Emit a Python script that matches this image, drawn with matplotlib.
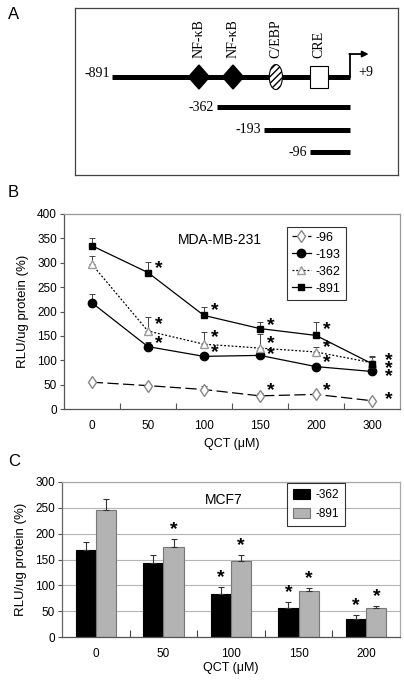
import matplotlib
matplotlib.use("Agg")
import matplotlib.pyplot as plt
from matplotlib.patches import Polygon, Ellipse, Rectangle
import numpy as np

plt.rcParams["font.family"] = ["Liberation Sans", "DejaVu Sans"]
plt.rcParams["hatch.linewidth"] = 1.0

# --- panel A: promoter constructs (schematic, not to scale) ---
PROM_START, PROM_END = -891, 9
EL_LABELS = ["NF-κB", "NF-κB", "C/EBP", "CRE"]
EL_KINDS = ["diamond", "diamond", "ellipse", "box"]
EL_POS = [-562, -433, -271, -108]
DEL_LABELS = ["-362", "-193", "-96"]
DEL_START = [-494, -316, -142]

# --- panel B: MDA-MB-231 dose response ---
DOSES_B = ["0", "50", "100", "150", "200", "300"]
B_NAMES = ["-96", "-193", "-362", "-891"]
B_96 = [55, 48, 40, 27, 30, 17]
B_193 = [218, 128, 108, 110, 87, 77]
B_362 = [297, 160, 133, 125, 117, 95]
B_891 = [335, 280, 192, 165, 151, 93]
B_96_ERR = [5, 3, 8, 6, 4, 3]
B_193_ERR = [17, 10, 5, 6, 5, 5]
B_362_ERR = [17, 28, 25, 28, 10, 12]
B_891_ERR = [15, 22, 18, 13, 28, 16]
# significant points (index, star height)
B_96_STAR = [(3, 38), (4, 38), (5, 19)]
B_193_STAR = [(1, 134), (2, 115), (3, 112), (4, 95), (5, 66)]
B_362_STAR = [(1, 174), (2, 146), (3, 134), (4, 125), (5, 83)]
B_891_STAR = [(1, 289), (2, 201), (3, 172), (4, 162), (5, 100)]

# --- panel C: MCF7 ---
DOSES_C = ["0", "50", "100", "150", "200"]
C_362 = [168, 143, 83, 57, 35]
C_362_ERR = [15, 16, 13, 10, 8]
C_891 = [246, 174, 147, 89, 57]
C_891_ERR = [22, 16, 11, 6, 3]
C_362_SIG = [False, False, True, True, True]
C_891_SIG = [False, True, True, True, True]

fig = plt.figure(figsize=(4.04, 6.8), dpi=100)

# ================= A =================
axA = fig.add_axes([0.1856, 0.7426, 0.7995, 0.2456])
axA.set_xlim(-1031, 191)
axA.set_ylim(167, 0)
axA.set_xticks([]); axA.set_yticks([])
for s in axA.spines.values():
    s.set_color("#444"); s.set_linewidth(0.9)
serif = ["Liberation Serif", "DejaVu Serif"]
y0 = 69
axA.plot([PROM_START, PROM_END], [y0, y0], color="black", lw=3.6,
         solid_capstyle="butt", zorder=1)
for lab, kind, x in zip(EL_LABELS, EL_KINDS, EL_POS):
    if kind == "diamond":
        axA.add_patch(Polygon([[x - 40, y0], [x, y0 - 12], [x + 40, y0], [x, y0 + 12]],
                              closed=True, fc="black", ec="black", zorder=3))
    elif kind == "ellipse":
        axA.add_patch(Ellipse((x, y0), 50, 25, fc="white", ec="black", lw=0.8,
                              hatch="/////", zorder=3))
    else:
        axA.add_patch(Rectangle((x - 34, y0 - 11), 68, 22, fc="white",
                                ec="black", lw=0.8, zorder=3))
    axA.text(x, 50, lab, rotation=90, ha="center", va="bottom",
             fontsize=10, family=serif)
# transcription start arrow
axA.plot([PROM_END, PROM_END], [y0, 46], color="black", lw=1.3)
axA.annotate("", xy=(80, 46), xytext=(PROM_END - 2, 46),
             arrowprops=dict(arrowstyle="-|>", color="black", lw=1.3,
                             mutation_scale=9, shrinkA=0, shrinkB=0))
axA.text(PROM_START - 8, y0 - 4, "-891", ha="right", va="center",
         fontsize=10, family=serif)
axA.text(40, y0 - 5, "+9", ha="left", va="center", fontsize=10, family=serif)
for k, (lab, xs) in enumerate(zip(DEL_LABELS, DEL_START)):
    yy = 99 + 22.5 * k
    axA.plot([xs, PROM_END], [yy, yy], color="black", lw=3.6,
             solid_capstyle="butt")
    axA.text(xs - 12, yy, lab, ha="right", va="center", fontsize=10,
             family=serif)
fig.text(0.02, 0.978, "A", fontsize=12, va="center", ha="left")

# ================= B =================
axB = fig.add_axes([0.158, 0.3985, 0.832, 0.2868])
xb = np.arange(len(DOSES_B))
styles = [
    (B_96, B_96_ERR, B_96_STAR, dict(ls=(0, (9, 3.5)), marker="d", ms=6,
                                     mfc="white", mec="#888")),
    (B_193, B_193_ERR, B_193_STAR, dict(ls="-", marker="o", ms=6,
                                        mfc="black", mec="black")),
    (B_362, B_362_ERR, B_362_STAR, dict(ls=(0, (1.5, 1.5)), marker="^", ms=6,
                                        mfc="white", mec="#999")),
    (B_891, B_891_ERR, B_891_STAR, dict(ls="-", marker="s", ms=4.5,
                                        mfc="black", mec="black")),
]
handles = []
for name, (vals, err, stars, st) in zip(B_NAMES, styles):
    axB.errorbar(xb, vals, yerr=[np.zeros(len(err)), err], fmt="none",
                 ecolor="#444", elinewidth=0.7, capsize=2.5, capthick=0.7,
                 zorder=2)
    ln, = axB.plot(xb, vals, color="black", lw=0.9, label=name, zorder=3, **st)
    handles.append(ln)
    for i, ys in stars:
        dx = 0.3 if i == 5 else 0.2
        axB.text(xb[i] + dx, ys, "*", fontsize=14, ha="center", va="center",
                 fontweight="bold")
axB.set_xlim(-0.5, len(DOSES_B) - 0.5)
axB.set_ylim(0, 400)
axB.set_yticks(np.arange(0, 401, 50))
axB.set_xticks(xb)
axB.set_xticklabels(DOSES_B)
axB.set_xticks(np.arange(0.5, len(DOSES_B) - 0.5, 1), minor=True)
axB.tick_params(axis="x", which="major", length=0, labelsize=8.5, pad=8)
axB.tick_params(axis="x", which="minor", direction="in", length=4,
                color="#555", width=0.8)
axB.tick_params(axis="y", length=3, color="#555", labelsize=8.5, pad=2)
for s in axB.spines.values():
    s.set_color("#999"); s.set_linewidth(0.9)
axB.spines["left"].set_color("#555")
axB.spines["bottom"].set_color("#555")
axB.set_ylabel("RLU/ug protein (%)", fontsize=9.5, labelpad=6)
axB.set_xlabel("QCT (μM)", fontsize=9, labelpad=4)
axB.text(0.464, 0.867, "MDA-MB-231", transform=axB.transAxes, fontsize=10,
         ha="center", va="center")
legB = axB.legend(handles=handles, loc="upper left",
                  bbox_to_anchor=(0.664, 0.935), borderaxespad=0,
                  fontsize=9, handlelength=1.5, handletextpad=0.4,
                  labelspacing=0.4, borderpad=0.4, fancybox=False,
                  frameon=True)
legB.get_frame().set_edgecolor("black")
legB.get_frame().set_linewidth(0.8)
fig.text(0.02, 0.717, "B", fontsize=12, va="center", ha="left")

# ================= C =================
axC = fig.add_axes([0.1535, 0.0632, 0.8366, 0.228])
xc = np.arange(len(DOSES_C))
w = 0.3
b1 = axC.bar(xc - w / 2, C_362, w, color="black", edgecolor="black",
             lw=0.8, label="-362", zorder=2)
b2 = axC.bar(xc + w / 2, C_891, w, color="#b3b3b3", edgecolor="#777",
             lw=0.8, label="-891", zorder=2)
axC.errorbar(xc - w / 2, C_362, yerr=[np.zeros(len(xc)), C_362_ERR],
             fmt="none", ecolor="#333", elinewidth=0.8, capsize=2.5,
             capthick=0.8, zorder=3)
axC.errorbar(xc + w / 2, C_891, yerr=[np.zeros(len(xc)), C_891_ERR],
             fmt="none", ecolor="#333", elinewidth=0.8, capsize=2.5,
             capthick=0.8, zorder=3)
for i in range(len(xc)):
    if C_362_SIG[i]:
        axC.text(xc[i] - w / 2, C_362[i] + C_362_ERR[i] + 2, "*",
                 fontsize=14, ha="center", va="bottom", fontweight="bold")
    if C_891_SIG[i]:
        axC.text(xc[i] + w / 2, C_891[i] + C_891_ERR[i] + 2, "*",
                 fontsize=14, ha="center", va="bottom", fontweight="bold")
axC.set_xlim(-0.5, len(DOSES_C) - 0.5)
axC.set_ylim(0, 300)
axC.set_yticks(np.arange(0, 301, 50))
axC.yaxis.grid(True, color="#b5b5b5", lw=0.8)
axC.set_axisbelow(True)
axC.set_xticks(xc)
axC.set_xticklabels(DOSES_C)
axC.set_xticks(np.arange(0.5, len(DOSES_C) - 0.5, 1), minor=True)
axC.tick_params(axis="x", which="major", length=0, labelsize=8.5, pad=8)
axC.tick_params(axis="x", which="minor", direction="in", length=5,
                color="#444", width=0.8)
axC.tick_params(axis="y", length=3, color="#555", labelsize=8.5, pad=2)
for s in axC.spines.values():
    s.set_color("#aaa"); s.set_linewidth(0.9)
axC.spines["left"].set_color("#666")
axC.spines["bottom"].set_color("#555")
axC.set_ylabel("RLU/ug protein (%)", fontsize=9.5, labelpad=6)
axC.set_xlabel("QCT (μM)", fontsize=9, labelpad=1)
axC.text(0.478, 0.885, "MCF7", transform=axC.transAxes, fontsize=10,
         ha="center", va="center")
legC = axC.legend(handles=[b1, b2], loc="upper left",
                  bbox_to_anchor=(0.666, 0.994), borderaxespad=0,
                  fontsize=8.5, handlelength=1.4, handleheight=0.9,
                  handletextpad=0.5, labelspacing=0.6, borderpad=0.5,
                  fancybox=False, frameon=True)
legC.get_frame().set_edgecolor("black")
legC.get_frame().set_linewidth(0.8)
fig.text(0.02, 0.322, "C", fontsize=12, va="center", ha="left")

fig.savefig("out.png", dpi=100)
